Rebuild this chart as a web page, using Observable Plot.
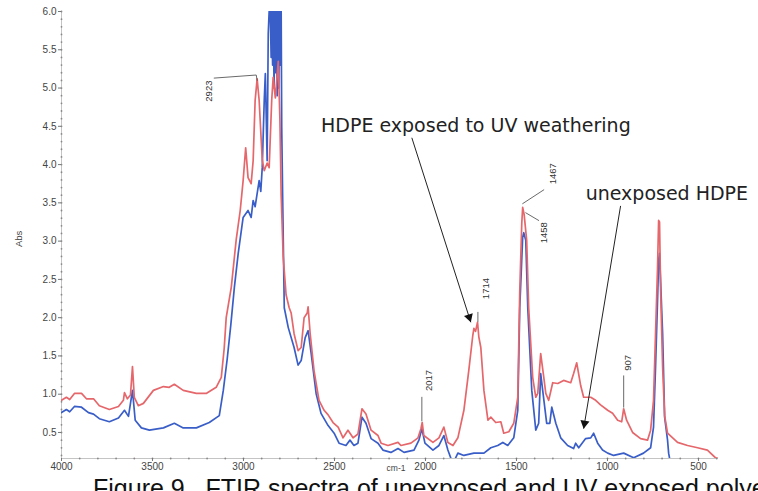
<!DOCTYPE html>
<html><head><meta charset="utf-8">
<script src="https://cdn.jsdelivr.net/npm/d3@7"></script>
<script src="https://cdn.jsdelivr.net/npm/@observablehq/plot@0.6"></script>
<style>
html,body{margin:0;padding:0;background:#fff;}
body{width:758px;height:491px;overflow:hidden;position:relative;}
#caption{position:absolute;left:93px;top:476px;font-family:"Liberation Sans",Arial,sans-serif;font-size:25px;line-height:25px;white-space:nowrap;color:#111;}
</style></head>
<body>
<div id="chart"></div>
<div id="caption">Figure 9 . FTIR spectra of unexposed and UV exposed polyethylene</div>
<script>
// wavenumber (cm-1), absorbance
const exposedHDPE = [
[4000,0.92],[3973,0.96],[3955,0.93],[3929,1.01],[3890,1.01],[3863,0.94],[3824,0.94],[3792,0.85],[3737,0.80],[3687,0.84],[3660,0.92],[3654,1.02],[3638,0.94],[3621,0.99],[3610,1.36],[3600,0.96],[3578,0.85],[3550,0.88],[3495,1.05],[3440,1.10],[3408,1.09],[3380,1.13],[3331,1.05],[3259,1.01],[3205,1.01],[3150,1.09],[3122,1.22],[3106,1.60],[3095,2.00],[3067,2.40],[3040,3.02],[3018,3.40],[3002,3.79],[2988,4.22],[2975,3.83],[2958,3.75],[2947,4.05],[2936,4.84],[2925,5.12],[2914,4.84],[2897,4.06],[2886,3.92],[2870,4.02],[2859,3.96],[2845,4.84],[2837,5.14],[2825,4.87],[2809,5.35],[2800,4.60],[2793,3.60],[2782,2.80],[2766,2.30],[2749,2.13],[2738,2.06],[2722,1.79],[2700,1.57],[2683,1.61],[2667,2.00],[2650,2.06],[2645,2.14],[2634,1.80],[2612,1.30],[2585,0.92],[2557,0.79],[2535,0.73],[2508,0.63],[2480,0.57],[2453,0.43],[2426,0.53],[2398,0.43],[2371,0.48],[2349,0.81],[2327,0.74],[2299,0.53],[2261,0.46],[2244,0.36],[2206,0.33],[2151,0.37],[2135,0.33],[2080,0.36],[2041,0.43],[2025,0.55],[2018,0.63],[2009,0.46],[1959,0.37],[1926,0.43],[1899,0.57],[1877,0.37],[1849,0.33],[1822,0.43],[1789,0.79],[1762,1.31],[1740,1.77],[1734,1.86],[1725,1.82],[1714,1.94],[1707,1.75],[1696,1.61],[1679,1.05],[1657,0.66],[1641,0.70],[1614,0.63],[1586,0.64],[1570,0.49],[1542,0.51],[1515,0.62],[1493,0.96],[1482,2.35],[1471,3.23],[1466,3.44],[1458,3.35],[1444,3.01],[1433,2.13],[1411,1.22],[1394,0.96],[1383,1.01],[1367,1.53],[1350,1.22],[1339,1.01],[1323,0.92],[1301,1.15],[1273,1.14],[1241,1.18],[1202,1.15],[1186,1.27],[1169,1.41],[1147,1.11],[1131,0.96],[1092,0.96],[1065,0.92],[1038,0.86],[999,0.79],[972,0.75],[944,0.66],[922,0.64],[911,0.81],[895,0.66],[862,0.50],[818,0.42],[780,0.40],[763,0.53],[747,0.92],[736,1.79],[725,2.65],[719,3.27],[714,3.25],[708,2.35],[697,1.35],[686,0.72],[670,0.49],[615,0.37],[560,0.33],[505,0.30],[451,0.27],[407,0.17],[390,0.16]
];
const unexposedHDPE = [
[4000,0.76],[3973,0.80],[3955,0.77],[3929,0.84],[3890,0.83],[3852,0.76],[3824,0.74],[3792,0.68],[3737,0.64],[3687,0.69],[3654,0.79],[3632,0.71],[3610,1.05],[3595,0.66],[3561,0.56],[3517,0.53],[3440,0.56],[3380,0.62],[3331,0.56],[3259,0.56],[3188,0.63],[3133,0.72],[3111,1.05],[3090,1.45],[3070,1.90],[3050,2.40],[3029,2.84],[3002,3.31],[2975,3.40],[2958,3.31],[2947,3.53],[2936,3.45],[2914,3.79],[2905,3.65],[2897,3.96],[2886,4.84],[2880,5.19],[2870,4.05],[2864,5.71],[2859,6.0],[2853,6.0],[2848,5.4],[2845,6.0],[2840,5.3],[2837,6.0],[2832,5.0],[2828,6.0],[2824,5.2],[2820,6.0],[2815,4.9],[2811,6.0],[2806,5.0],[2802,6.0],[2797,5.3],[2793,6.0],[2790,4.5],[2785,3.6],[2776,2.13],[2754,1.87],[2722,1.61],[2700,1.38],[2683,1.44],[2661,1.74],[2645,1.83],[2628,1.53],[2601,1.01],[2574,0.75],[2535,0.59],[2502,0.49],[2475,0.36],[2437,0.33],[2415,0.40],[2393,0.33],[2371,0.36],[2349,0.70],[2327,0.62],[2299,0.42],[2261,0.36],[2234,0.27],[2190,0.24],[2151,0.29],[2118,0.24],[2063,0.27],[2036,0.40],[2020,0.55],[2003,0.36],[1959,0.27],[1926,0.33],[1899,0.46],[1877,0.27],[1860,0.16],[1844,0.12],[1822,0.23],[1789,0.20],[1734,0.23],[1679,0.23],[1641,0.30],[1603,0.33],[1575,0.37],[1548,0.33],[1515,0.43],[1493,0.79],[1482,2.13],[1466,3.05],[1460,3.11],[1449,3.01],[1438,2.13],[1416,1.05],[1394,0.53],[1378,0.62],[1367,1.27],[1356,1.05],[1334,0.62],[1317,0.62],[1306,0.83],[1284,0.62],[1257,0.43],[1219,0.33],[1186,0.29],[1175,0.36],[1158,0.30],[1120,0.42],[1092,0.43],[1076,0.49],[1054,0.36],[1027,0.27],[999,0.23],[966,0.20],[911,0.23],[856,0.17],[802,0.23],[763,0.30],[747,0.57],[736,1.35],[725,2.22],[719,2.75],[714,2.84],[697,1.79],[686,0.70],[670,0.40],[664,0.23],[654,0.10]
];
const xTicks = [4000,3500,3000,2500,2000,1500,1000,500];
const yTicks = [0.5,1.0,1.5,2.0,2.5,3.0,3.5,4.0,4.5,5.0,5.5,6.0];
const xMinor = d3.range(3900, 399, -100);
const yMinor = d3.range(2, 61).map(i => i / 10);
// peak labels: text, x (cm-1), y (Abs)
const peakLabels = [
  {label:"2923", x:3188, y:4.96},
  {label:"1714", x:1668, y:2.38},
  {label:"1467", x:1301, y:3.88},
  {label:"1458", x:1350, y:3.11},
  {label:"2017", x:1981, y:1.18},
  {label:"907",  x:889,  y:1.41}
];
const leaderLines = [
  {id:"2923", x:3161, y:5.13},{id:"2923", x:2930, y:5.17},{id:"2923", x:2925, y:5.10},
  {id:"1714", x:1712, y:2.07},{id:"1714", x:1712, y:1.95},
  {id:"1467", x:1350, y:3.67},{id:"1467", x:1466, y:3.49},
  {id:"1458", x:1449, y:3.37},{id:"1458", x:1378, y:3.27},
  {id:"2017", x:2020, y:0.96},{id:"2017", x:2020, y:0.65},
  {id:"907",  x:911,  y:1.24},{id:"907",  x:911,  y:0.83}
];
const callouts = [
  {text:"HDPE exposed to UV weathering", x:2574, y:4.51},
  {text:"unexposed HDPE", x:1120, y:3.62}
];
const arrows = [
  {x1:2075, y1:4.35, x2:1751, y2:1.94},
  {x1:928, y1:3.46, x2:1131, y2:0.55}
];

function build(heads) {
  return Plot.plot({
    width: 758, height: 491,
    marginTop: 11, marginBottom: 33, marginLeft: 61, marginRight: 40,
    x: {domain: [4000, 390]},
    y: {domain: [0.16, 6.0]},
    style: {fontFamily: "'Liberation Sans', Arial, sans-serif", fontSize: "10px", color: "#444", background: "#fff"},
    marks: [
      Plot.ruleX([4000], {stroke: "#c4c4c4"}),
      Plot.ruleY([0.16], {stroke: "#c4c4c4"}),
      Plot.dot(yMinor, {x: () => 4000, y: d => d, r: 0.9, fill: "#888", stroke: null}),
      Plot.dot(xMinor, {x: d => d, y: () => 0.16, r: 0.9, fill: "#888", stroke: null}),
      Plot.axisY(yTicks, {tickFormat: d3.format(".1f"), tickSize: 3, tickPadding: 2, label: null, stroke: "#777"}),
      Plot.axisX(xTicks, {tickFormat: d3.format("d"), tickSize: 3, tickPadding: 1, label: null, stroke: "#777"}),
      Plot.text(["Abs"], {text: d => d, frameAnchor: "left", dx: -43, dy: 12, rotate: -90, fontSize: 9.5, fill: "#444"}),
      Plot.text(["cm-1"], {text: d => d, frameAnchor: "bottom", dx: 6, dy: 12, fontSize: 8.5, fill: "#444"}),
      Plot.line(unexposedHDPE, {x: d => d[0], y: d => d[1], stroke: "#3a5ec8", strokeWidth: 1.7, clip: true}),
      Plot.line(exposedHDPE, {x: d => d[0], y: d => d[1], stroke: "#e5676b", strokeWidth: 1.7, clip: true}),
      Plot.line(leaderLines, {x: "x", y: "y", z: "id", stroke: "#444", strokeWidth: 0.8}),
      Plot.text(peakLabels, {x: "x", y: "y", text: "label", rotate: -90, fontSize: 9.5, fill: "#333"}),
      Plot.link(arrows, {x1: "x1", y1: "y1", x2: "x2", y2: "y2", stroke: "#222", strokeWidth: 1}),
      Plot.dot(heads, {x: "x", y: "y", rotate: "angle", symbol: "triangle", r: 3.4, fill: "#111", stroke: null}),
      Plot.text(callouts, {x: "x", y: "y", text: "text", textAnchor: "start", fontSize: 19, fontFamily: "'DejaVu Sans', sans-serif", fill: "#222"})
    ]
  });
}

// first pass: read the scales to orient the filled arrowheads
const probe = build([]);
const sx = probe.scale("x"), sy = probe.scale("y");
const kx = (sx.range[1] - sx.range[0]) / (sx.domain[1] - sx.domain[0]);
const ky = (sy.range[1] - sy.range[0]) / (sy.domain[1] - sy.domain[0]);
const tipDist = 2 * Math.sqrt((Math.PI * 3.4 * 3.4) / (Math.sqrt(3) * 3));
const heads = arrows.map(a => {
  const dx = (a.x2 - a.x1) * kx, dy = (a.y2 - a.y1) * ky;
  const len = Math.hypot(dx, dy);
  const ux = dx / len, uy = dy / len;
  return {
    x: a.x2 - (ux * tipDist) / kx,
    y: a.y2 - (uy * tipDist) / ky,
    angle: Math.atan2(dx, -dy) * 180 / Math.PI
  };
});
document.getElementById("chart").appendChild(build(heads));
</script>
</body></html>
